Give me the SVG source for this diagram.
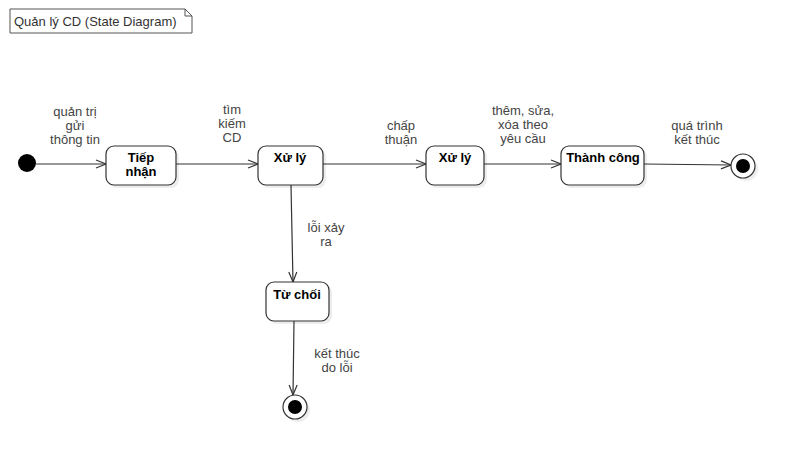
<svg xmlns="http://www.w3.org/2000/svg" width="795" height="459" viewBox="0 0 795 459">
<style>
.state{fill:#fff;stroke:#333;stroke-width:1.2}
.shadow{fill:#000;opacity:0.07}
.name{font-family:"Liberation Sans",Arial,sans-serif;font-size:13px;font-weight:bold;fill:#000;text-anchor:middle}
.lbl{font-family:"Liberation Sans",Arial,sans-serif;font-size:13px;fill:#444;text-anchor:middle}
.edge{fill:none;stroke:#333;stroke-width:1.2}
.title{font-family:"Liberation Sans",Arial,sans-serif;font-size:13px;fill:#333}
</style>
<defs>
<marker id="open" markerWidth="12" markerHeight="10" refX="11" refY="5" orient="auto" markerUnits="userSpaceOnUse">
<path d="M1,1 L11,5 L1,9" fill="none" stroke="#333" stroke-width="1.2"/>
</marker>
</defs>
<rect width="795" height="459" fill="#fff"/>
<g id="title">
<path d="M10,9 H185 L192,16 V33 H10 Z" fill="#fff" stroke="#555" stroke-width="1"/>
<path d="M185,9 V16 H192" fill="none" stroke="#555" stroke-width="1"/>
<text class="title" x="14" y="26">Quản lý CD (State Diagram)</text>
</g>
<g id="connectors">
<path class="edge" d="M36,164 H106" marker-end="url(#open)"/>
<path class="edge" d="M176,164 H258" marker-end="url(#open)"/>
<path class="edge" d="M323,164 H426" marker-end="url(#open)"/>
<path class="edge" d="M484,164 H561" marker-end="url(#open)"/>
<path class="edge" d="M644,164 L731,165" marker-end="url(#open)"/>
<path class="edge" d="M291,185 L293,282" marker-end="url(#open)"/>
<path class="edge" d="M294,321 L293,395" marker-end="url(#open)"/>
<g id="edge-labels">
<text class="lbl"><tspan x="75" y="116">quản trị</tspan><tspan x="75" y="130">gửi</tspan><tspan x="75" y="144">thông tin</tspan></text>
<text class="lbl"><tspan x="232" y="114">tìm</tspan><tspan x="232" y="128">kiếm</tspan><tspan x="232" y="142">CD</tspan></text>
<text class="lbl"><tspan x="401" y="130">chấp</tspan><tspan x="401" y="144">thuận</tspan></text>
<text class="lbl"><tspan x="523" y="115">thêm, sửa,</tspan><tspan x="523" y="129">xóa theo</tspan><tspan x="523" y="143">yêu cầu</tspan></text>
<text class="lbl"><tspan x="697" y="130">quá trình</tspan><tspan x="697" y="144">kết thúc</tspan></text>
<text class="lbl"><tspan x="326" y="232">lỗi xảy</tspan><tspan x="326" y="246">ra</tspan></text>
<text class="lbl"><tspan x="337" y="358">kết thúc</tspan><tspan x="337" y="372">do lỗi</tspan></text>
</g>
</g>
<g id="start">
<circle cx="27" cy="163" r="9" fill="#000"/>
</g>
<g id="tiepnhan">
<rect class="shadow" x="109" y="149" width="70" height="39" rx="8"/>
<rect class="state" x="106" y="146" width="70" height="39" rx="8"/>
<text class="name"><tspan x="141" y="162">Tiếp</tspan><tspan x="141" y="176">nhận</tspan></text>
</g>
<g id="xuly1">
<rect class="shadow" x="261" y="149" width="65" height="39" rx="8"/>
<rect class="state" x="258" y="146" width="65" height="39" rx="8"/>
<text class="name" x="290" y="162">Xử lý</text>
</g>
<g id="xuly2">
<rect class="shadow" x="429" y="149" width="58" height="39" rx="8"/>
<rect class="state" x="426" y="146" width="58" height="39" rx="8"/>
<text class="name" x="455" y="162">Xử lý</text>
</g>
<g id="thanhcong">
<rect class="shadow" x="564" y="149" width="83" height="39" rx="8"/>
<rect class="state" x="561" y="146" width="83" height="39" rx="8"/>
<text class="name" x="603" y="162">Thành công</text>
</g>
<g id="end1">
<circle cx="746" cy="169" r="12" class="shadow"/>
<circle cx="743" cy="166" r="12" fill="#fff" stroke="#333" stroke-width="1.2"/>
<circle cx="743" cy="166" r="7" fill="#000"/>
</g>
<g id="tuchoi">
<rect class="shadow" x="269" y="285" width="63" height="39" rx="8"/>
<rect class="state" x="266" y="282" width="63" height="39" rx="8"/>
<text class="name" x="297" y="299">Từ chối</text>
</g>
<g id="end2">
<circle cx="298" cy="410" r="12" class="shadow"/>
<circle cx="295" cy="407" r="12" fill="#fff" stroke="#333" stroke-width="1.2"/>
<circle cx="295" cy="407" r="7" fill="#000"/>
</g>
</svg>
